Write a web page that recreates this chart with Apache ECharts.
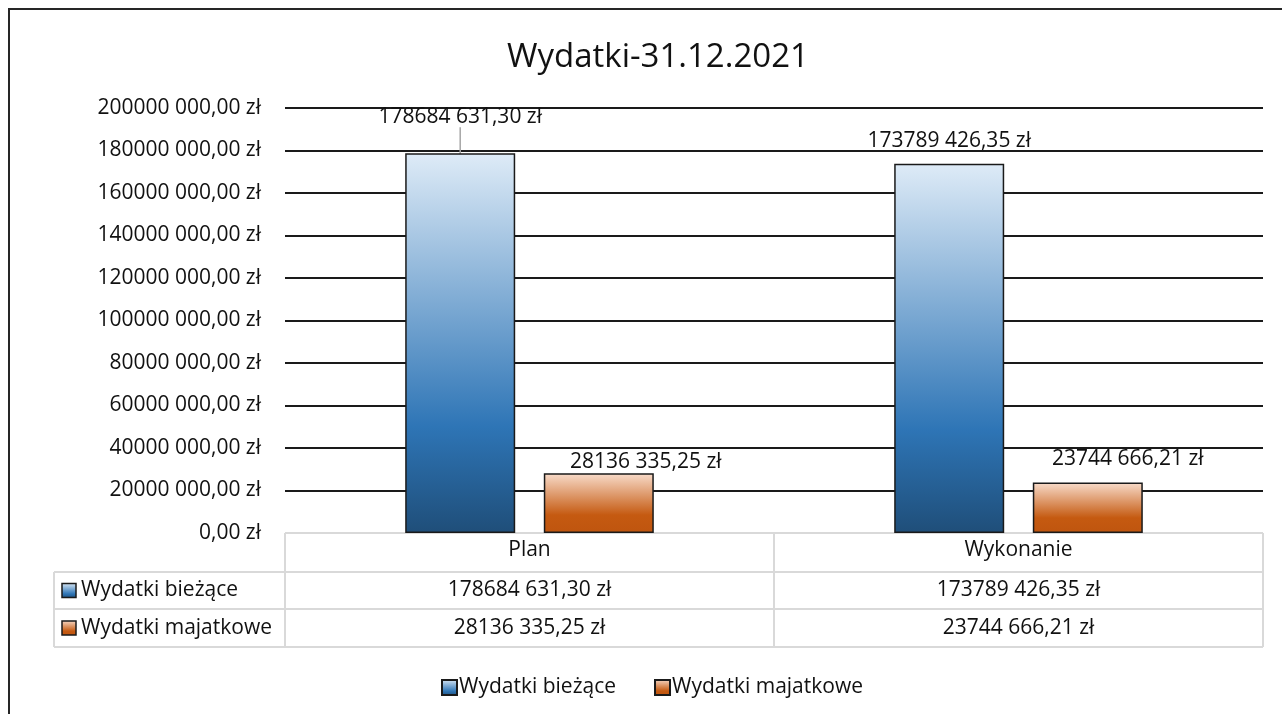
<!DOCTYPE html>
<html>
<head>
<meta charset="utf-8">
<script src="https://cdn.jsdelivr.net/npm/echarts@6/dist/echarts.min.js"></script>
<style>
  html, body { margin: 0; padding: 0; background: #fff; }
  #chart { width: 1282px; height: 714px; }
</style>
</head>
<body>
<div id="chart"></div>
<script>
// dane
const categories = ['Plan', 'Wykonanie'];
const seriesNames = ['Wydatki bieżące', 'Wydatki majatkowe'];
const wydatkiBiezace = [178684631.30, 173789426.35];
const wydatkiMajatkowe = [28136335.25, 23744666.21];
const yMin = 0;
const yMax = 200000000;
const yStep = 20000000;

const FONT = '"Open Sans", "Liberation Sans", sans-serif';
const TXT = '#111';
const FS = 21;

// format jak w Excelu: "178684 631,30 zł"
function zl(v) {
  const parts = v.toFixed(2).split('.');
  let i = parts[0];
  if (i.length > 3) i = i.slice(0, -3) + ' ' + i.slice(-3);
  return i + ',' + parts[1] + ' zł';
}

const blueFill = new echarts.graphic.LinearGradient(0, 0, 0, 1, [
  { offset: 0, color: '#deebf7' },
  { offset: 0.72, color: '#2e75b6' },
  { offset: 1, color: '#1f4e79' }
]);
const orangeFill = new echarts.graphic.LinearGradient(0, 0, 0, 1, [
  { offset: 0, color: '#f8dccb' },
  { offset: 0.7, color: '#c55a11' },
  { offset: 1, color: '#bf550f' }
]);
const fills = [blueFill, orangeFill];

// przesuniecia etykiet (recznie ustawione w oryginale)
const labelShift = [
  [[0, -21], [0, -7]],
  [[47, 4], [40, -8]]
];

const chart = echarts.init(document.getElementById('chart'));

const gridLeft = 285, gridRight = 1263, gridTop = 108, gridBottom = 533;

chart.setOption({
  animation: false,
  backgroundColor: '#fff',
  title: {
    text: 'Wydatki-31.12.2021',
    left: 502,
    top: 36,
    textStyle: { fontSize: 33, fontWeight: 'normal', fontFamily: FONT, color: TXT }
  },
  legend: {
    top: 672,
    left: 436,
    icon: 'rect',
    itemWidth: 15,
    itemHeight: 15,
    itemGap: 38,
    textStyle: { fontSize: FS, fontFamily: FONT, color: TXT, padding: [0, 0, 0, -3] },
    data: seriesNames
  },
  grid: {
    left: gridLeft,
    right: 1282 - gridRight,
    top: gridTop,
    bottom: 714 - gridBottom
  },
  xAxis: {
    type: 'category',
    data: categories,
    axisLine: { show: false },
    axisTick: { show: false },
    axisLabel: { margin: 7, fontSize: FS, fontFamily: FONT, color: TXT }
  },
  yAxis: {
    type: 'value',
    min: yMin,
    max: yMax,
    interval: yStep,
    axisLine: { show: false },
    axisTick: { show: false },
    axisLabel: { margin: 24, fontSize: FS, fontFamily: FONT, color: TXT, formatter: zl },
    splitLine: { showMinLine: false, lineStyle: { color: '#1a1a1a', width: 2 } }
  },
  series: [wydatkiBiezace, wydatkiMajatkowe].map(function (vals, si) {
    return {
      name: seriesNames[si],
      type: 'bar',
      barWidth: 110,
      barGap: '26%',
      itemStyle: { color: fills[si], borderColor: '#1a1a1a', borderWidth: 1.5 },
      data: vals.map(function (v, di) {
        return { value: v, labelLine: { show: si === 0 && di === 0 } };
      }),
      label: {
        show: true,
        position: 'top',
        distance: 5,
        fontSize: FS,
        fontFamily: FONT,
        color: TXT,
        formatter: function (p) { return zl(p.value); }
      },
      labelLine: { show: false, lineStyle: { color: '#a6a6a6', width: 1.5 } },
      labelLayout: function (p) {
        const s = labelShift[si][p.dataIndex];
        return { dx: s[0], dy: s[1] };
      }
    };
  })
});

// tabela danych pod wykresem
const rowTops = [533, 572, 609, 647];
const tableLeft = 54;
const mid = (gridLeft + gridRight) / 2;
const lineStyle = { stroke: '#d9d9d9', lineWidth: 2 };
const g = [];

function line(x1, y1, x2, y2) {
  g.push({ type: 'line', shape: { x1: x1, y1: y1, x2: x2, y2: y2 }, style: lineStyle, z: 1 });
}
line(gridLeft, rowTops[0], gridRight, rowTops[0]);
line(tableLeft, rowTops[1], gridRight, rowTops[1]);
line(tableLeft, rowTops[2], gridRight, rowTops[2]);
line(tableLeft, rowTops[3], gridRight, rowTops[3]);
line(tableLeft, rowTops[1], tableLeft, rowTops[3]);
[gridLeft, mid, gridRight].forEach(function (x) { line(x, rowTops[0], x, rowTops[3]); });

[wydatkiBiezace, wydatkiMajatkowe].forEach(function (vals, si) {
  const yc = (rowTops[si + 1] + rowTops[si + 2]) / 2;
  g.push({
    type: 'rect',
    shape: { x: 62, y: yc - 7, width: 14, height: 14 },
    style: { fill: fills[si], stroke: '#1a1a1a', lineWidth: 1.5 },
    z: 2
  });
  g.push({
    type: 'text',
    style: { text: seriesNames[si], x: 81, y: yc, align: 'left', verticalAlign: 'middle', fontSize: FS, fontFamily: FONT, fill: TXT },
    z: 2
  });
  vals.forEach(function (v, di) {
    const x = chart.convertToPixel({ xAxisIndex: 0 }, categories[di]);
    g.push({
      type: 'text',
      style: { text: zl(v), x: x, y: yc, align: 'center', verticalAlign: 'middle', fontSize: FS, fontFamily: FONT, fill: TXT },
      z: 2
    });
  });
});

// ramka wykresu
g.push({
  type: 'rect',
  shape: { x: 9, y: 9, width: 1300, height: 720 },
  style: { fill: 'none', stroke: '#262626', lineWidth: 2 },
  z: 0
});

chart.setOption({ graphic: g });
</script>
</body>
</html>
